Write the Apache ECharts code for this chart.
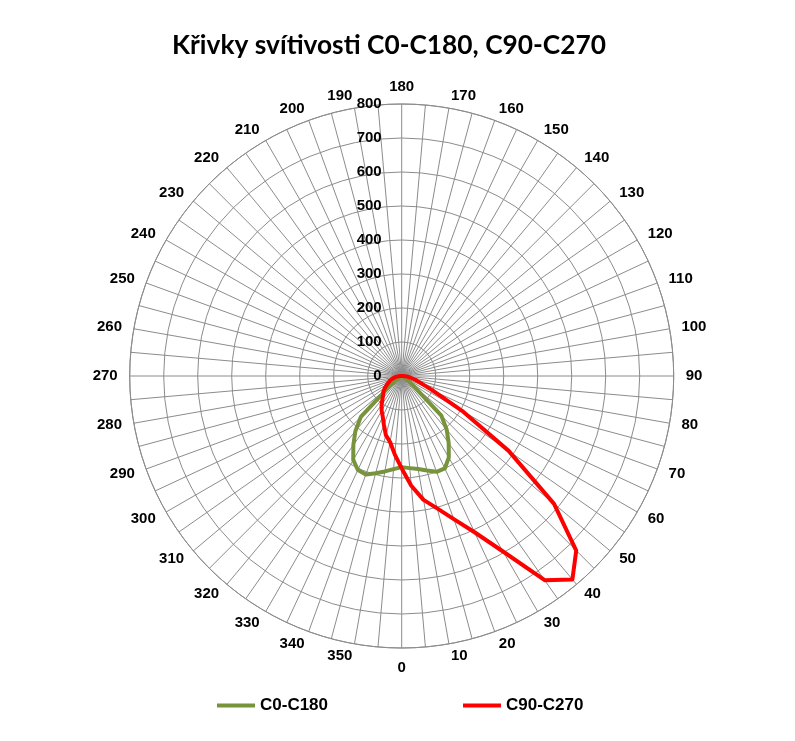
<!DOCTYPE html>
<html>
<head>
<meta charset="utf-8">
<script src="https://cdn.jsdelivr.net/npm/echarts@6/dist/echarts.min.js"></script>
<style>
html,body{margin:0;padding:0;background:#fff;}
#chart{width:795px;height:741px;}
</style>
</head>
<body>
<div id="chart"></div>
<script>
const titleText = 'Křivky svítivosti C0-C180, C90-C270';
const seriesNames = ['C0-C180', 'C90-C270'];
const angles = [0,5,10,15,20,25,30,35,40,45,50,55,60,65,70,75,80,85,90,95,100,105,110,115,120,125,130,135,140,145,150,155,160,165,170,175,180,185,190,195,200,205,210,215,220,225,230,235,240,245,250,255,260,265,270,275,280,285,290,295,300,305,310,315,320,325,330,335,340,345,350,355];
const c0c180 = [268,272,278,288,300,300,277,241,206,165,45,18,8,3,
  0,0,0,0,0,0,0,0,0,0,0,0,0,0,0,0,0,0,0,0,0,0,0,0,0,0,0,0,0,0,0,0,0,0,0,0,0,0,0,0,0,0,0,0,0,
  3,8,18,47,170,212,248,285,305,308,296,285,275];
const c90c270 = [272,324,370,403,448,507,596,733,781,726,585,384,205,100,59,40,25,15,5,
  0,0,0,0,0,0,0,0,0,0,0,0,0,0,0,0,0,0,0,0,0,0,0,0,0,0,0,0,0,0,0,0,0,0,0,
  5,12,20,27,35,41,50,60,70,77,88,103,118,132,153,180,197,232];

function toPolar(vals) {
  const d = angles.map((a, i) => [vals[i], a]);
  d.push([vals[0], 360]);
  return d;
}

const gridColor = '#8c8c8c';
const labelFont = {fontFamily: 'Liberation Sans, Arial', fontWeight: 'bold', fontSize: 15, color: '#000', lineHeight: 1};
const digitW = 8.34;
function angleLabel(v) {
  if (v % 10 !== 0 || v >= 360) return '';
  const s = String(v);
  if (v === 0) return '{pt|' + s + '}';
  if (v === 180) return '{pb|' + s + '}';
  if (v === 10 || v === 170) return '{pl' + s.length + '|' + s + '}';
  if (v === 190 || v === 350) return '{pr' + s.length + '|' + s + '}';
  return s;
}
const rich = {
  pt: Object.assign({padding: [15, 0, 0, 0]}, labelFont),
  pb: Object.assign({padding: [0, 0, 9, 0]}, labelFont),
  pl2: Object.assign({padding: [0, 0, 0, 2 * digitW]}, labelFont),
  pl3: Object.assign({padding: [0, 0, 0, 3 * digitW]}, labelFont),
  pr2: Object.assign({padding: [0, 2 * digitW, 0, 0]}, labelFont),
  pr3: Object.assign({padding: [0, 3 * digitW, 0, 0]}, labelFont)
};

const chart = echarts.init(document.getElementById('chart'), null, {renderer: 'canvas'});
const center = [401.7, 376];
const R = 272;
chart.setOption({
  backgroundColor: '#ffffff',
  animation: false,
  title: {
    text: titleText,
    left: 167,
    top: 28,
    textStyle: {fontFamily: 'Lato', fontWeight: 'bold', fontSize: 26.3, color: '#000'}
  },
  legend: [
    {data: [seriesNames[0]], left: 217, top: 697, padding: 0, itemWidth: 38, itemHeight: 4, icon: 'rect',
     textStyle: {fontFamily: 'Liberation Sans, Arial', fontWeight: 'bold', fontSize: 17, color: '#000'}},
    {data: [seriesNames[1]], left: 463, top: 697, padding: 0, itemWidth: 38, itemHeight: 4, icon: 'rect',
     textStyle: {fontFamily: 'Liberation Sans, Arial', fontWeight: 'bold', fontSize: 17, color: '#000'}}
  ],
  polar: [
    {center: center, radius: R},
    {center: center, radius: R}
  ],
  angleAxis: [
    {
      polarIndex: 0, type: 'value', min: 0, max: 360, interval: 5,
      startAngle: 270, clockwise: false,
      axisLine: {show: true, lineStyle: {color: gridColor, width: 1}},
      axisTick: {show: false},
      splitLine: {show: true, lineStyle: {color: gridColor, width: 1}},
      axisLabel: Object.assign({margin: 12, formatter: angleLabel, rich: rich}, labelFont)
    },
    {
      polarIndex: 1, type: 'value', min: 0, max: 360, startAngle: 90,
      axisLine: {show: false}, axisTick: {show: false}, axisLabel: {show: false}, splitLine: {show: false}
    }
  ],
  radiusAxis: [
    {
      polarIndex: 0, type: 'value', min: 0, max: 800, interval: 100,
      axisLine: {show: false}, axisTick: {show: false}, axisLabel: {show: false},
      splitLine: {show: true, lineStyle: {color: gridColor, width: 1}}
    },
    {
      polarIndex: 1, type: 'value', min: 0, max: 800, interval: 100,
      axisLine: {show: false}, axisTick: {show: false}, splitLine: {show: false},
      axisLabel: {show: true, margin: 20, fontFamily: 'Liberation Sans, Arial', fontWeight: 'bold', fontSize: 15, color: '#000'}
    }
  ],
  series: [
    {
      name: seriesNames[0], type: 'line', coordinateSystem: 'polar', polarIndex: 0,
      data: toPolar(c0c180), showSymbol: false, symbol: 'none',
      itemStyle: {color: '#77933C'},
      lineStyle: {color: '#77933C', width: 4, join: 'round'},
      z: 3
    },
    {
      name: seriesNames[1], type: 'line', coordinateSystem: 'polar', polarIndex: 0,
      data: toPolar(c90c270), showSymbol: false, symbol: 'none',
      itemStyle: {color: '#FF0000'},
      lineStyle: {color: '#FF0000', width: 4, join: 'round'},
      z: 4
    }
  ]
});
</script>
</body>
</html>
